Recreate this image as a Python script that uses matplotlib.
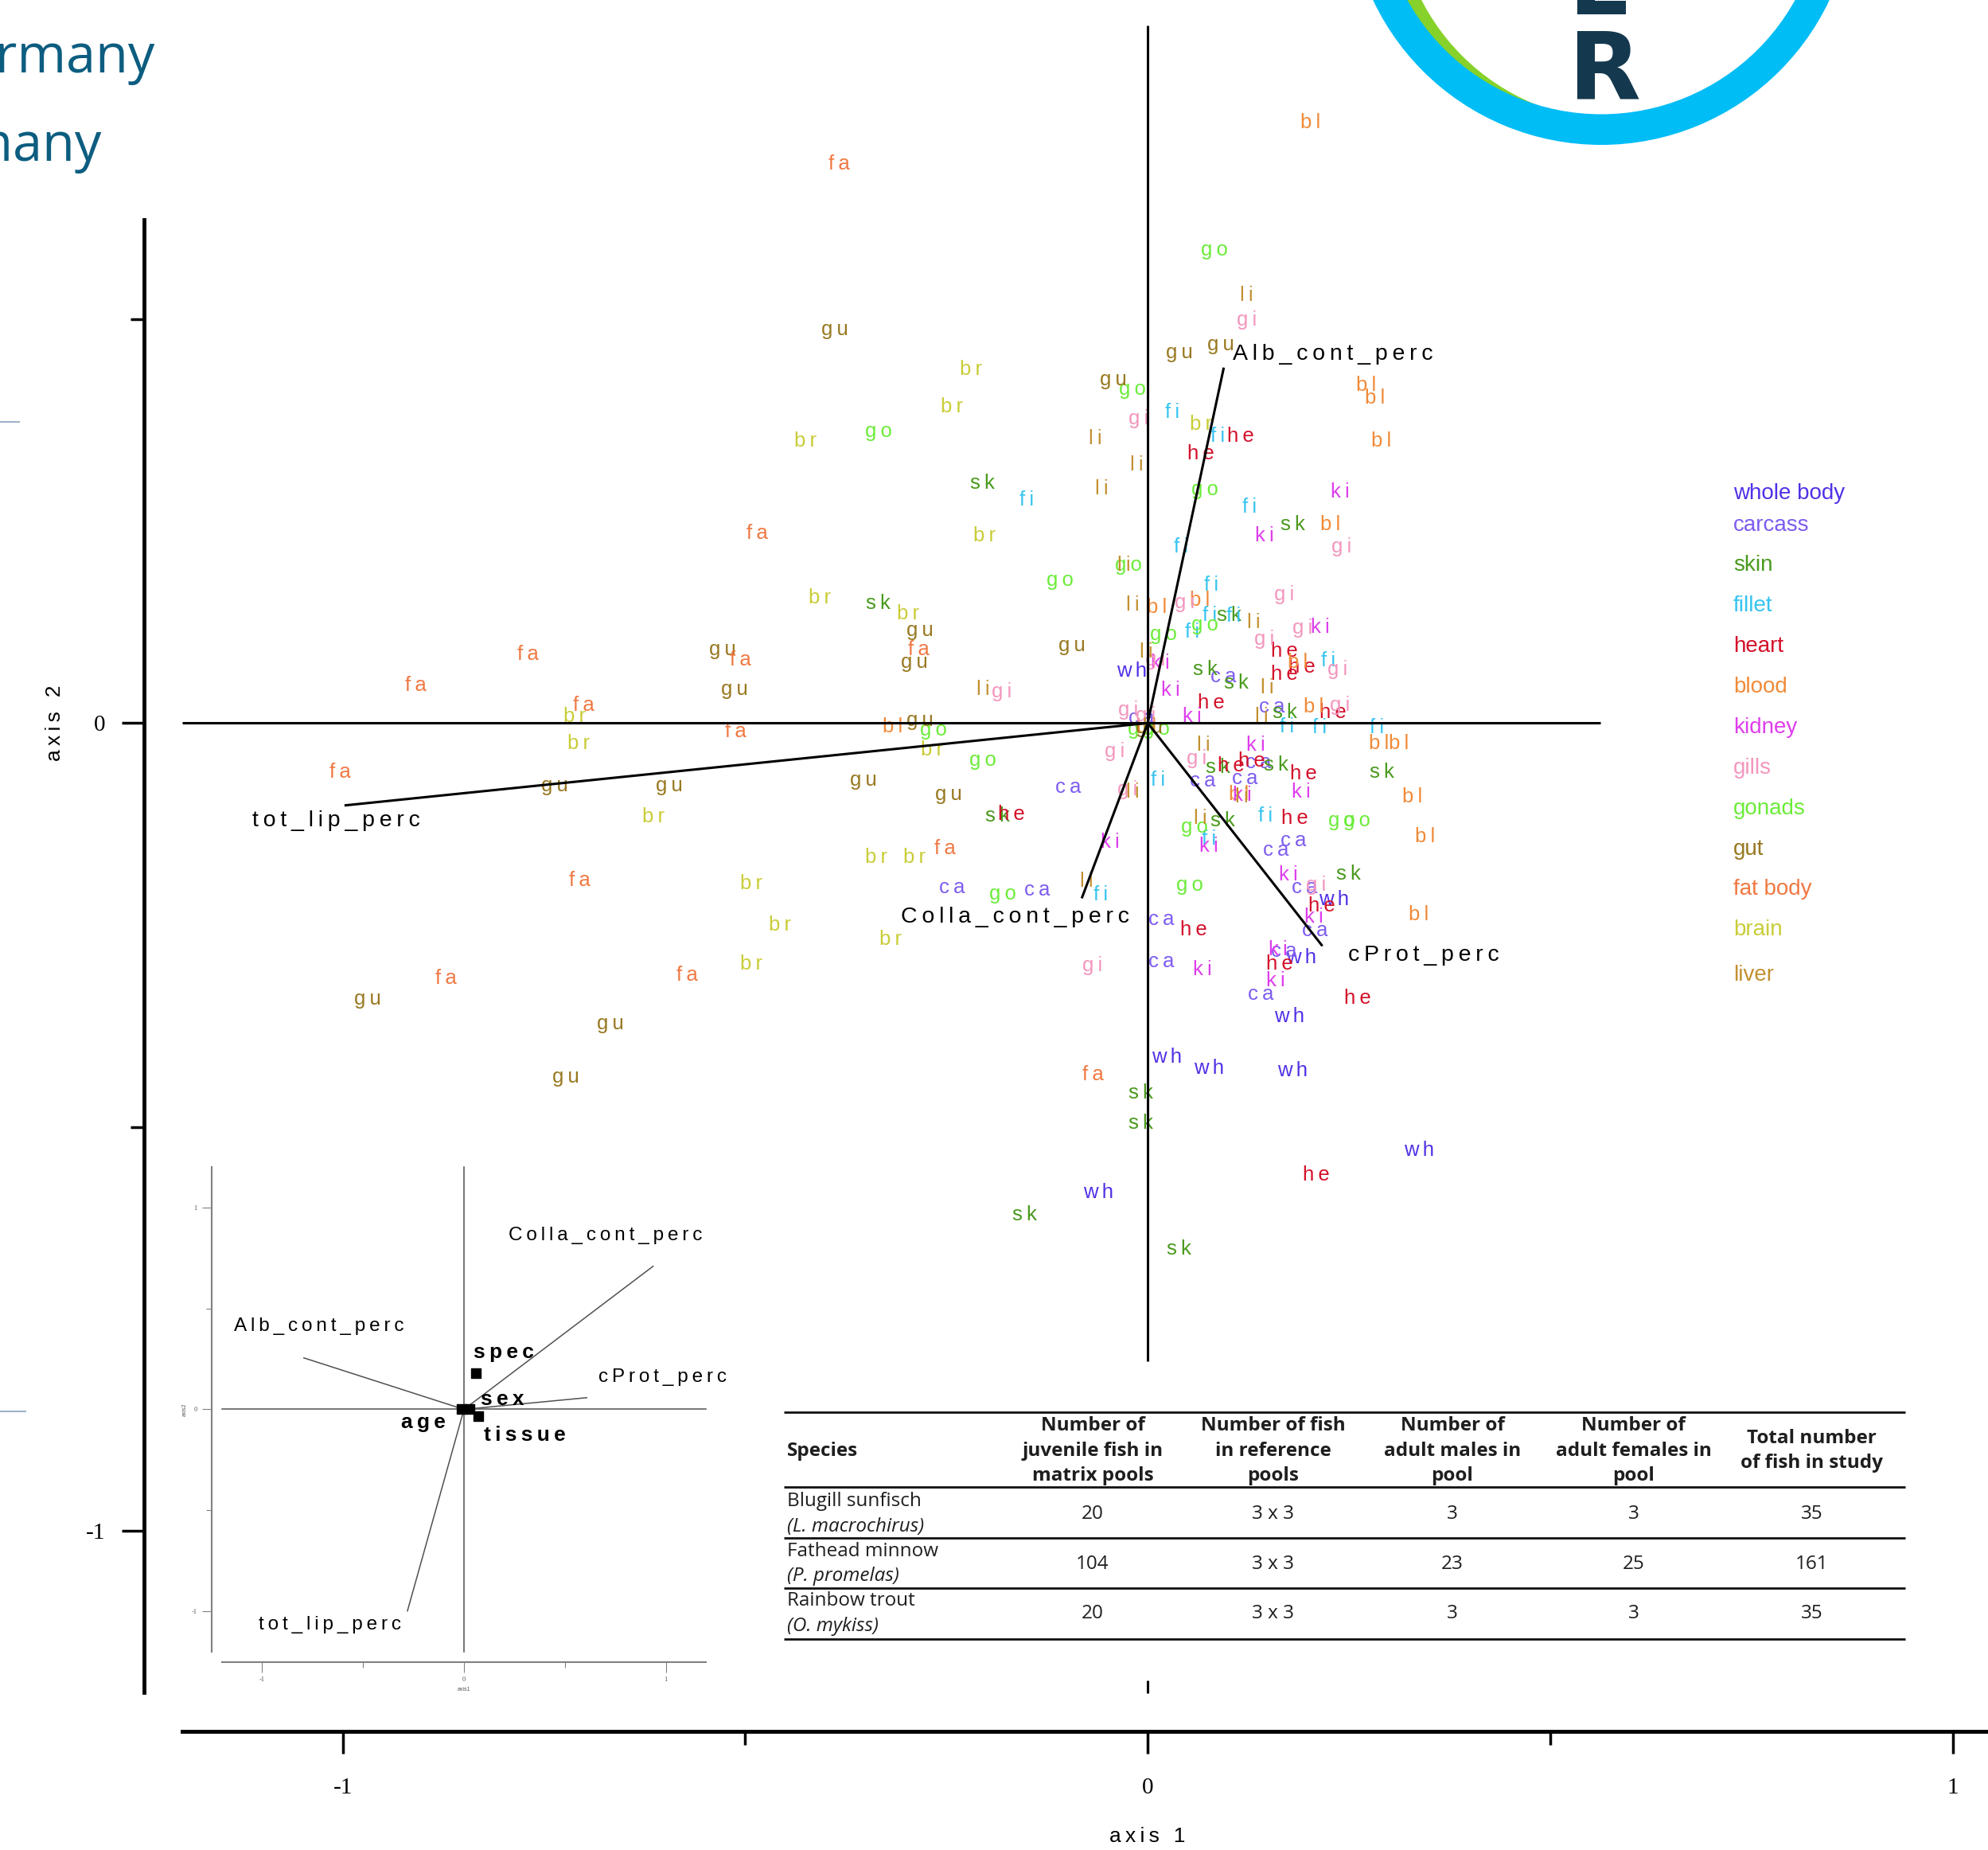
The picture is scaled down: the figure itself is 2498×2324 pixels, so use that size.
import matplotlib
matplotlib.use('Agg')
import matplotlib.pyplot as plt
from matplotlib.patches import Circle, Wedge

plt.rcParams.update({
    'font.family': ['Liberation Sans', 'DejaVu Sans'],
    'axes.unicode_minus': False,
})

W, H = 2498, 2324
THIN = '\u2009'


def spaced(s):
    # R draws its labels with wide letter spacing
    return THIN.join(s)


# tissues: plot code, legend name, colour
tissue_codes = ['wh', 'ca', 'sk', 'fi', 'he', 'bl', 'ki', 'gi', 'go', 'gu', 'fa', 'br', 'li']
tissue_names = ['whole body', 'carcass', 'skin', 'fillet', 'heart', 'blood', 'kidney',
                'gills', 'gonads', 'gut', 'fat body', 'brain', 'liver']
tissue_colors = ['#5230E6', '#7E5CF0', '#4A9A1E', '#36C4F0', '#D3102A', '#F08A38', '#DE3EEC',
                 '#F396BE', '#6CEC3A', '#987820', '#F07842', '#C9CD38', '#C29030']

# sample scores on axis 1 / axis 2, one pair of lists per tissue
wh_x = [-0.020, 0.231, 0.191, 0.176, 0.024, 0.076, 0.180, -0.061, 0.337]
wh_y = [0.064, -0.218, -0.290, -0.363, -0.414, -0.427, -0.430, -0.581, -0.529]
ca_x = [0.094, 0.154, -0.008, 0.137, -0.099, 0.068, 0.121, 0.181, 0.159, -0.243, -0.137,
        0.195, 0.208, 0.017, 0.017, 0.169, 0.140]
ca_y = [0.057, 0.020, 0.006, -0.049, -0.080, -0.072, -0.069, -0.146, -0.157, -0.204, -0.207,
        -0.204, -0.257, -0.243, -0.295, -0.283, -0.336]
sk_x = [-0.205, 0.180, -0.335, 0.101, 0.071, 0.110, 0.170, 0.087, 0.159, 0.291, -0.187,
        0.093, 0.249, -0.009, -0.009, -0.153, 0.039]
sk_y = [0.297, 0.246, 0.148, 0.133, 0.066, 0.050, 0.013, -0.055, -0.052, -0.061, -0.115,
        -0.121, -0.187, -0.458, -0.495, -0.609, -0.651]
fi_x = [0.031, 0.087, -0.150, 0.126, 0.041, 0.079, 0.077, 0.107, 0.055, 0.224, 0.173,
        0.213, 0.285, 0.013, 0.146, 0.076, -0.058]
fi_y = [0.385, 0.355, 0.276, 0.267, 0.218, 0.171, 0.133, 0.132, 0.113, 0.077, -0.005,
        -0.006, -0.006, -0.071, -0.115, -0.144, -0.213]
he_x = [0.115, 0.066, 0.170, 0.192, 0.170, 0.079, 0.230, 0.104, 0.129, 0.194, -0.169,
        0.183, 0.216, 0.057, 0.164, 0.261, 0.209]
he_y = [0.355, 0.333, 0.089, 0.069, 0.060, 0.025, 0.013, -0.053, -0.047, -0.063, -0.113,
        -0.118, -0.226, -0.256, -0.298, -0.341, -0.559]
bl_x = [0.202, 0.271, 0.282, 0.290, 0.227, 0.011, 0.065, 0.186, 0.206, -0.002, 0.287,
        0.312, -0.317, 0.113, 0.329, 0.345, 0.337]
bl_y = [0.743, 0.418, 0.402, 0.349, 0.246, 0.143, 0.152, 0.075, 0.020, -0.006, -0.025,
        -0.025, -0.005, -0.088, -0.091, -0.141, -0.237]
ki_x = [0.239, 0.145, 0.214, 0.016, 0.028, 0.055, 0.134, 0.117, 0.191, -0.047, 0.076,
        0.175, 0.206, 0.162, 0.068, 0.159]
ki_y = [0.286, 0.232, 0.119, 0.074, 0.041, 0.008, -0.027, -0.089, -0.085, -0.148, -0.152,
        -0.188, -0.240, -0.281, -0.305, -0.319]
gi_x = [0.123, -0.011, 0.241, 0.170, 0.046, 0.192, 0.145, 0.009, 0.236, 0.239, -0.181,
        -0.024, -0.003, -0.041, 0.061, -0.025, -0.069, 0.209]
gi_y = [0.499, 0.377, 0.218, 0.159, 0.149, 0.118, 0.104, 0.078, 0.066, 0.022, 0.039,
        0.016, 0.009, -0.035, -0.044, -0.082, -0.300, -0.201]
go_x = [0.083, -0.019, -0.334, 0.071, -0.109, -0.024, 0.071, 0.020, -0.008, 0.011, -0.266,
        -0.205, 0.058, 0.241, 0.260, 0.052, -0.180]
go_y = [0.586, 0.413, 0.361, 0.289, 0.177, 0.195, 0.121, 0.110, -0.008, -0.008, -0.009,
        -0.046, -0.129, -0.121, -0.121, -0.201, -0.212]
gu_x = [-0.389, 0.039, 0.091, -0.043, -0.283, -0.290, -0.528, -0.513, -0.094, -0.283,
        0.002, -0.737, -0.595, -0.353, -0.247, -0.969, -0.668, -0.723]
gu_y = [0.487, 0.458, 0.468, 0.425, 0.115, 0.075, 0.091, 0.042, 0.096, 0.003,
        -0.006, -0.078, -0.078, -0.071, -0.088, -0.342, -0.372, -0.438]
fa_x = [-0.383, -0.485, -0.770, -0.285, -0.506, -0.909, -0.701, -0.512, -1.003, -0.252,
        -0.706, -0.872, -0.572, -0.068]
fa_y = [0.692, 0.235, 0.085, 0.091, 0.078, 0.047, 0.022, -0.011, -0.061, -0.155,
        -0.195, -0.316, -0.312, -0.435]
br_x = [-0.220, -0.243, -0.425, 0.066, -0.203, -0.408, -0.298, -0.712, -0.707, -0.268,
        -0.614, -0.337, -0.290, -0.493, -0.457, -0.320, -0.493]
br_y = [0.438, 0.391, 0.349, 0.370, 0.232, 0.155, 0.135, 0.008, -0.025, -0.033,
        -0.116, -0.166, -0.166, -0.199, -0.250, -0.268, -0.298]
li_x = [0.123, -0.065, -0.014, -0.057, -0.030, -0.019, 0.132, -0.002, 0.148, 0.142,
        -0.205, 0.069, 0.002, -0.019, 0.117, 0.065, -0.076]
li_y = [0.529, 0.352, 0.320, 0.290, 0.195, 0.146, 0.124, 0.088, 0.044, 0.008,
        0.042, -0.027, -0.005, -0.085, -0.091, -0.118, -0.196]

tissue_x = [wh_x, ca_x, sk_x, fi_x, he_x, bl_x, ki_x, gi_x, go_x, gu_x, fa_x, br_x, li_x]
tissue_y = [wh_y, ca_y, sk_y, fi_y, he_y, bl_y, ki_y, gi_y, go_y, gu_y, fa_y, br_y, li_y]

# environmental variables (main biplot)
var_names = ['tot_lip_perc', 'Alb_cont_perc', 'Colla_cont_perc', 'cProt_perc']
var_x = [-0.998, 0.0945, -0.082, 0.217]
var_y = [-0.102, 0.440, -0.217, -0.276]

# small correlation circle inset
inset_var_x = [-0.280, -0.793, 0.937, 0.608]
inset_var_y = [-0.998, 0.255, 0.709, 0.058]
factor_names = ['age', 'sex', 'spec', 'tissue']
factor_x = [-0.010, 0.028, 0.059, 0.071]
factor_y = [0.000, 0.000, 0.178, -0.033]

# study design table
table_headers = ['Species', 'Number of\njuvenile fish in\nmatrix pools',
                 'Number of fish\nin reference\npools', 'Number of\nadult males in\npool',
                 'Number of\nadult females in\npool', 'Total number\nof fish in study']
species_common = ['Blugill sunfisch', 'Fathead minnow', 'Rainbow trout']
species_latin = ['L. macrochirus', 'P. promelas', 'O. mykiss']
juvenile_matrix = [20, 104, 20]
reference_pools = ['3 x 3', '3 x 3', '3 x 3']
adult_males = [3, 23, 3]
adult_females = [3, 25, 3]
total_fish = [35, 161, 35]

# ---------------------------------------------------------------- main plot
fig = plt.figure(figsize=(W / 100, H / 100), dpi=100)
ax = fig.add_axes([0, 0, 1, 1])
ax.set_xlim(-1.426, 1.044)
ax.set_ylim(-1.395, 0.895)

for code, color, xs, ys in zip(tissue_codes, tissue_colors, tissue_x, tissue_y):
    for x, y in zip(xs, ys):
        ax.text(x, y, spaced(code), color=color, fontsize=18.5, ha='center', va='center', zorder=2)

line_kw = dict(color='black', lw=2.2, zorder=3, solid_capstyle='butt')
ax.plot([-1.2, 0.562], [0, 0], **line_kw)
ax.plot([0, 0], [-0.79, 0.863], **line_kw)
ax.plot([0, 0], [-1.201, -1.185], **line_kw)

var_label_offsets = [(-0.010, -0.019), (0.135, 0.017), (-0.083, -0.023), (0.126, -0.011)]
for name, x, y, (dx, dy) in zip(var_names, var_x, var_y, var_label_offsets):
    ax.plot([0, x], [0, y], **line_kw)
    ax.text(x + dx, y + dy, spaced(name), fontsize=20.5, ha='center', va='center', zorder=4)

for s in ['top', 'right']:
    ax.spines[s].set_visible(False)
ax.spines['left'].set_position(('data', -1.247))
ax.spines['left'].set_bounds(-1.2, 0.623)
ax.spines['bottom'].set_position(('data', -1.248))
ax.spines['bottom'].set_bounds(-1.2, 1.1)
for s in ['left', 'bottom']:
    ax.spines[s].set_linewidth(3.5)
ax.set_xticks([-1, 0, 1])
ax.set_xticks([-0.5, 0.5], minor=True)
ax.set_yticks([-1, 0])
ax.set_yticks([-0.5, 0.5], minor=True)
ax.tick_params(which='major', length=20, width=2.5, labelsize=21,
               labelfontfamily='Liberation Serif')
ax.tick_params(which='minor', length=12, width=2.5)
ax.tick_params(axis='x', which='major', pad=22)
ax.tick_params(axis='y', which='major', pad=15)
ax.text(0, -1.378, spaced('axis 1'), fontsize=19, ha='center', va='center')
ax.text(-1.358, 0, spaced('axis 2'), fontsize=19, ha='center', va='center', rotation=90)

# ---------------------------------------------------------------- inset
ins = fig.add_axes([265.9 / W, 1 - 2087.6 / H, 634.2 / W, 634.2 / H])
ins.patch.set_alpha(0)
ins.set_xlim(-1.25, 1.25)
ins.set_ylim(-1.25, 1.25)
for s in ['top', 'right']:
    ins.spines[s].set_visible(False)
for s in ['left', 'bottom']:
    ins.spines[s].set_bounds(-1.2, 1.2)
    ins.spines[s].set_color('#808080')
    ins.spines[s].set_linewidth(1.5)
ins.set_xticks([-1, 0, 1])
ins.set_xticks([-0.5, 0.5], minor=True)
ins.set_yticks([-1, 0, 1])
ins.set_yticks([-0.5, 0.5], minor=True)
ins.tick_params(which='major', length=9, width=0.8, color='#808080', labelsize=6,
                labelcolor='#555555', pad=4, labelfontfamily='Liberation Serif')
ins.tick_params(which='minor', length=5, width=0.8, color='#808080')
ins.set_xlabel('axis1', fontsize=5, color='#555555', labelpad=4)
ins.set_ylabel('axis2', fontsize=5, color='#555555', labelpad=4)

thin_kw = dict(color='#505050', lw=1.1, zorder=2)
ins.plot([-1.2, 1.2], [0, 0], **thin_kw)
ins.plot([0, 0], [-1.2, 1.2], **thin_kw)
inset_label_offsets = [(-0.383, -0.070), (0.073, 0.155), (-0.235, 0.152), (0.375, 0.100)]
for name, x, y, (dx, dy) in zip(var_names, inset_var_x, inset_var_y, inset_label_offsets):
    ins.plot([0, x], [0, y], **thin_kw)
    ins.text(x + dx, y + dy, spaced(name), fontsize=17.5, ha='center', va='center', clip_on=False)

ins.scatter(factor_x, factor_y, marker='s', s=70, color='black', zorder=4)
factor_label_offsets = [(-0.190, -0.065), (0.162, 0.049), (0.139, 0.105), (0.230, -0.094)]
for name, x, y, (dx, dy) in zip(factor_names, factor_x, factor_y, factor_label_offsets):
    ins.text(x + dx, y + dy, spaced(name), fontsize=19, fontweight='bold',
             ha='center', va='center', zorder=5)

# ---------------------------------------------------------------- page decorations (pixel space)
deco = fig.add_axes([0, 0, 1, 1], zorder=5)
deco.set_xlim(0, W)
deco.set_ylim(H, 0)
deco.axis('off')

# cropped slide title on the left
deco.text(195, 91, 'Germany', ha='right', va='baseline', fontsize=48,
          color='#0C5D80', family='Open Sans')
deco.text(128, 202, 'Germany', ha='right', va='baseline', fontsize=48,
          color='#0C5D80', family='Open Sans')
deco.plot([0, 24], [530, 530], color='#9DB3C9', lw=1.5)
deco.plot([0, 32], [1773, 1773], color='#9DB3C9', lw=1.5)

# logo ring, top right
deco.add_patch(Circle((2012, -135), 280, color='#86D22A', lw=0))
deco.add_patch(Circle((2034, -127), 278.5, color='white', lw=0))
deco.add_patch(Wedge((2012, -135), 317, 0, 360, width=38.5, color='#00BDF6', lw=0))
deco.text(1970, 124, 'R', fontsize=85, fontweight='bold', color='#14394F',
          family='DejaVu Sans', ha='left', va='baseline')
deco.text(1970, 18, 'E', fontsize=85, fontweight='bold', color='#14394F',
          family='DejaVu Sans', ha='left', va='baseline')

# tissue legend
legend_y_px = [620, 660, 710, 761, 812, 863, 914, 965, 1016, 1067, 1117, 1168, 1225]
for name, color, y in zip(tissue_names, tissue_colors, legend_y_px):
    deco.text(2178, y, name, color=color, fontsize=20, ha='left', va='center')

# study design table
tab_left, tab_right = 984.6, 2394
rule_y = [1774, 1868, 1931.6, 1995, 2058.7]
col_x = [989, 1373, 1600, 1825, 2052.5, 2276.6]
header_y = 1822.7
row_y = [1902, 1964.6, 2027]
line_gap = 31.4
tab_font = dict(family='Open Sans', fontsize=17.5, color='#1E1E1E', va='center')

for y in rule_y:
    deco.plot([tab_left, tab_right], [y, y], color='#111111', lw=2.0, solid_capstyle='butt')

for i, (cx, head) in enumerate(zip(col_x, table_headers)):
    lines = head.split('\n')
    for j, line in enumerate(lines):
        y = header_y + (j - (len(lines) - 1) / 2) * line_gap
        deco.text(cx, y, line, fontweight='bold', ha='left' if i == 0 else 'center', **tab_font)

for i in range(len(species_common)):
    deco.text(col_x[0], row_y[i] - line_gap / 2, species_common[i], ha='left', **tab_font)
    deco.text(col_x[0], row_y[i] + line_gap / 2, f'({species_latin[i]})', ha='left',
              style='italic', **tab_font)
    values = [juvenile_matrix[i], reference_pools[i], adult_males[i], adult_females[i], total_fish[i]]
    for cx, v in zip(col_x[1:], values):
        deco.text(cx, row_y[i], str(v), ha='center', **tab_font)

fig.savefig('out.png', dpi=100)
